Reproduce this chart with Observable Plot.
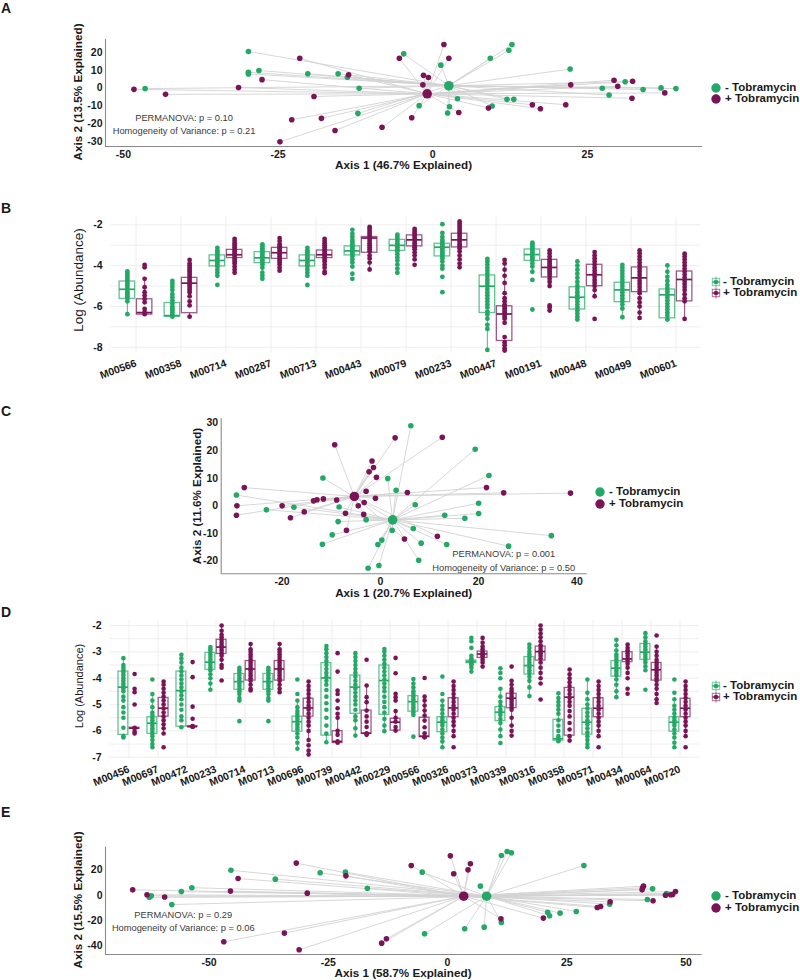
<!DOCTYPE html>
<html><head><meta charset="utf-8">
<script src="https://cdn.jsdelivr.net/npm/d3@7"></script>
<script src="https://cdn.jsdelivr.net/npm/@observablehq/plot@0.6"></script>
<style>
body{margin:0;background:#fff;}
#page{position:relative;width:800px;height:980px;overflow:hidden;font-family:"Liberation Sans",Arial,sans-serif;color:#1a1a1a;background:#fff;}
</style></head><body><div id="page"></div>
<script>
// ---------- shared ----------
const groupLabels = ["- Tobramycin", "+ Tobramycin"];
const groupColors = ["#23A865", "#7A1456"];

// ---------- Panel A (PCoA) ----------
const aGreen = [[-46.5,-0.3],[-29.8,20.4],[-29.8,8.8],[-29.8,7.9],[-28.1,9.8],[-20.2,8.0],[-15.3,8.0],[-13.8,6.0],[-11.9,-0.1],[-12.1,-14.1],[-4.7,19.1],[1.3,12.8],[9.3,16.6],[12.3,21.1],[12.8,24.3],[22.2,10.6],[31.1,3.5],[27.4,-0.1],[34.0,-0.8],[36.9,0.1],[39.3,-0.3],[28.5,-3.9],[4.0,-6.0],[12.0,-6.3],[13.1,-6.3],[9.6,-10.0],[-2.2,-9.8],[2.7,-10.4],[2.4,-13.9]];
const aPurple = [[-48.3,-0.7],[-43.2,-3.5],[-27.6,4.7],[-31.4,0.3],[-21.5,16.6],[-13.6,7.4],[-19.2,-4.7],[-22.8,-17.7],[-18.0,-16.9],[-15.8,-23.7],[-8.2,-21.9],[-24.7,-30.0],[-5.4,16.6],[1.8,24.3],[2.6,16.6],[-1.5,7.1],[-0.7,5.9],[-1.6,1.8],[22.3,1.8],[29.3,4.4],[32.3,3.8],[29.9,1.0],[37.5,-2.7],[32.2,-5.7],[16.1,-9.3],[17.4,-11.5],[21.5,-9.3],[9.0,-11.1],[4.2,-13.6],[-3.4,-16.6]];
const aCentroids = [[2.6,1.3],[-0.9,-3.2]];
const aXTicks = [-50,-25,0,25];
const aYTicks = [-30,-20,-10,0,10,20];
const aStats = [{x:-40.2,y:-16.6,t:"PERMANOVA: p = 0.10"},{x:-40.2,y:-23.9,t:"Homogeneity of Variance: p = 0.21"}];

// ---------- Panel B (boxplots) ----------
const bCats = ["M00566","M00358","M00714","M00287","M00713","M00443","M00079","M00233","M00447","M00191","M00448","M00499","M00601"];
const bYTicks = [-8,-6,-4,-2];
const bGrid = [-8,-7,-6,-5,-4,-3,-2];
// [lower hinge, median, upper hinge]
const bGreenBox = [[-5.63,-5.16,-4.78],[-6.50,-6.45,-5.83],[-4.04,-3.75,-3.50],[-3.88,-3.62,-3.34],[-4.04,-3.75,-3.50],[-3.50,-3.28,-3.06],[-3.28,-3.01,-2.74],[-3.55,-3.10,-2.93],[-6.32,-5.01,-4.48],[-3.77,-3.46,-3.21],[-6.15,-5.55,-5.06],[-5.79,-5.19,-4.84],[-6.58,-5.43,-5.17]];
const bPurpleBox = [[-6.40,-6.30,-5.65],[-6.33,-4.86,-4.60],[-3.63,-3.47,-3.23],[-3.67,-3.37,-3.13],[-3.63,-3.47,-3.26],[-3.37,-2.65,-2.60],[-3.06,-2.74,-2.52],[-3.11,-2.74,-2.44],[-7.69,-6.37,-5.99],[-4.58,-4.09,-3.72],[-5.01,-4.45,-3.96],[-5.30,-4.60,-4.09],[-5.75,-4.68,-4.29]];
const bGreenPts = [
[-4.29,-4.4,-4.5,-4.6,-4.7,-4.8,-4.9,-5.0,-5.1,-5.2,-5.3,-5.4,-5.5,-5.6,-5.75,-6.38],
[-4.75,-4.9,-5.05,-5.2,-5.4,-5.55,-5.7,-5.85,-6.0,-6.1,-6.2,-6.3,-6.4,-6.5],
[-3.13,-3.25,-3.35,-3.45,-3.55,-3.65,-3.75,-3.85,-3.95,-4.05,-4.2,-4.35,-4.5,-4.94],
[-2.96,-3.05,-3.15,-3.25,-3.35,-3.45,-3.55,-3.65,-3.75,-3.85,-3.95,-4.1,-4.35,-4.5,-4.65],
[-3.13,-3.25,-3.35,-3.45,-3.55,-3.65,-3.75,-3.85,-3.95,-4.05,-4.2,-4.35,-4.5,-4.95],
[-2.25,-2.45,-2.6,-2.75,-2.85,-2.95,-3.05,-3.15,-3.25,-3.35,-3.45,-3.55,-3.7,-3.85,-4.05,-4.4,-4.65],
[-2.49,-2.6,-2.7,-2.8,-2.9,-3.0,-3.1,-3.2,-3.3,-3.45,-3.6,-3.75,-3.95,-4.15,-4.35],
[-1.97,-2.4,-2.6,-2.75,-2.85,-2.95,-3.05,-3.15,-3.25,-3.35,-3.45,-3.55,-3.65,-3.8,-4.0,-4.15,-4.55,-5.3],
[-3.67,-3.8,-3.95,-4.1,-4.25,-4.4,-4.55,-4.7,-4.85,-5.0,-5.15,-5.3,-5.45,-5.6,-5.75,-5.9,-6.05,-6.25,-6.4,-6.6,-6.9,-7.1,-8.13],
[-2.88,-2.95,-3.05,-3.15,-3.25,-3.35,-3.45,-3.55,-3.65,-3.75,-3.9,-4.05,-4.3,-4.7,-6.15],
[-3.8,-4.0,-4.2,-4.4,-4.6,-4.8,-5.0,-5.15,-5.3,-5.45,-5.6,-5.75,-5.9,-6.05,-6.2,-6.35,-6.5,-6.64],
[-3.96,-4.1,-4.25,-4.4,-4.55,-4.7,-4.85,-5.0,-5.15,-5.3,-5.45,-5.6,-5.75,-5.9,-6.1,-6.53],
[-3.99,-4.3,-4.55,-4.75,-4.95,-5.1,-5.25,-5.4,-5.55,-5.7,-5.85,-6.0,-6.15,-6.3,-6.45,-6.64]];
const bPurplePts = [
[-3.96,-4.08,-4.65,-5.06,-5.3,-5.47,-5.63,-5.8,-6.12,-6.28,-6.38],
[-3.72,-3.9,-4.0,-4.1,-4.2,-4.3,-4.4,-4.5,-4.6,-4.7,-4.8,-4.9,-5.0,-5.1,-5.2,-5.3,-5.5,-5.75,-5.95,-6.5],
[-2.69,-2.8,-2.9,-3.0,-3.1,-3.2,-3.3,-3.4,-3.5,-3.6,-3.7,-3.8,-3.9,-4.05,-4.2,-4.35],
[-2.65,-2.8,-2.95,-3.05,-3.15,-3.25,-3.35,-3.45,-3.55,-3.65,-3.75,-3.85,-3.95,-4.1,-4.25],
[-2.69,-2.8,-2.9,-3.0,-3.1,-3.2,-3.3,-3.4,-3.5,-3.6,-3.7,-3.8,-3.95,-4.1,-4.3,-4.37],
[-2.11,-2.2,-2.3,-2.4,-2.5,-2.6,-2.7,-2.8,-2.9,-3.0,-3.1,-3.2,-3.3,-3.5,-3.65,-3.85,-4.19],
[-2.2,-2.3,-2.4,-2.5,-2.6,-2.7,-2.8,-2.9,-3.0,-3.1,-3.2,-3.35,-3.5,-3.7,-3.96],
[-1.84,-1.95,-2.05,-2.15,-2.25,-2.35,-2.45,-2.55,-2.65,-2.75,-2.85,-2.95,-3.05,-3.15,-3.3,-3.5,-3.7,-3.9,-4.08],
[-3.72,-3.9,-4.2,-4.5,-4.85,-5.35,-5.6,-5.75,-5.9,-6.0,-6.1,-6.2,-6.3,-6.4,-6.5,-6.6,-6.8,-7.5,-7.75,-7.9,-8.05,-8.16],
[-3.26,-3.4,-3.55,-3.7,-3.8,-3.9,-4.0,-4.1,-4.2,-4.3,-4.4,-4.5,-4.65,-4.8,-5.0,-5.95,-6.05,-6.2],
[-3.34,-3.5,-3.65,-3.8,-3.95,-4.1,-4.25,-4.4,-4.55,-4.7,-4.85,-5.0,-5.2,-5.5,-6.61],
[-3.26,-3.4,-3.55,-3.7,-3.85,-4.0,-4.15,-4.3,-4.45,-4.6,-4.75,-4.9,-5.05,-5.2,-5.35,-5.6,-5.8,-6.0,-6.3,-6.56],
[-3.42,-3.55,-3.7,-3.85,-4.0,-4.15,-4.3,-4.45,-4.6,-4.75,-4.9,-5.05,-5.2,-5.4,-5.6,-5.75,-6.61]];

// ---------- Panel C (PCoA) ----------
const cGreen = [[6.2,29.0],[-11.7,10.1],[1.5,9.9],[-29.3,3.9],[3.2,5.6],[-17.6,-0.5],[-23.2,-1.4],[-8.4,-0.4],[7.1,0.4],[-8.6,-5.7],[-2.9,-5.0],[2.4,-8.9],[-9.8,-10.5],[6.7,-8.2],[0.3,-12.4],[-0.5,-14.0],[8.3,-13.5],[-11.8,-13.9],[13.5,-14.0],[13.1,-3.4],[17.2,-4.5],[7.8,-19.7],[-0.3,-21.6],[-2.5,-22.6],[19.3,20.5],[22.1,11.0],[20.0,0.95],[20.0,-2.8],[34.8,-10.8],[26.1,-14.6]];
const cPurple = [[3.0,24.6],[12.6,24.8],[-9.3,22.1],[-1.7,16.2],[-1.4,13.9],[-2.3,12.3],[-0.8,10.3],[-27.7,6.6],[-29.2,0],[-29.3,-3.4],[5.5,4.8],[-2.9,5.3],[-11.6,2.5],[-12.9,2.2],[-13.6,1.8],[-8.9,2.1],[-1.0,2.7],[-3.3,1.2],[-4.5,0],[-20.0,0],[-7.1,-2.7],[-3.4,-3.1],[-18.3,-4.3],[-15.5,-2.2],[-6.9,-8.9],[11.6,-11.0],[4.9,-12.0],[21.6,6.6],[25.1,4.7],[38.7,4.6]];
const cCentroids = [[2.5,-5.1],[-5.3,3.4]];
const cXTicks = [-20,0,20,40];
const cYTicks = [-20,-10,0,10,20,30];
const cStats = [{x:25.1,y:-17.6,t:"PERMANOVA: p = 0.001"},{x:25.1,y:-22.5,t:"Homogeneity of Variance: p = 0.50"}];

// ---------- Panel D (boxplots) ----------
const dCats = ["M00456","M00697","M00472","M00233","M00714","M00713","M00696","M00739","M00442","M00229","M00566","M00326","M00373","M00339","M00316","M00358","M00571","M00434","M00064","M00720"];
const dYTicks = [-7,-6,-5,-4,-3,-2];
const dGrid = [-7,-6.5,-6,-5.5,-5,-4.5,-4,-3.5,-3,-2.5,-2];
const dGreenBox = [[-6.15,-4.34,-3.75],[-6.11,-5.71,-5.48],[-5.84,-4.47,-3.75],[-3.68,-3.39,-3.04],[-4.44,-4.13,-3.84],[-4.44,-4.13,-3.84],[-6.03,-5.65,-5.46],[-6.18,-3.99,-3.43],[-5.35,-4.34,-3.90],[-5.39,-4.09,-3.52],[-5.27,-4.89,-4.68],[-6.05,-5.67,-5.48],[-3.43,-3.37,-3.33],[-5.63,-5.29,-5.10],[-3.86,-3.52,-3.20],[-6.37,-6.30,-5.58],[-6.14,-5.67,-5.16],[-3.94,-3.62,-3.35],[-3.30,-3.01,-2.70],[-6.03,-5.67,-5.48]];
const dPurpleBox = [[-5.92,-5.90,-5.88],[-5.46,-5.14,-4.75],[-5.84,-5.84,-5.82],[-3.08,-2.82,-2.54],[-4.09,-3.65,-3.35],[-4.09,-3.65,-3.35],[-5.46,-5.13,-4.78],[-6.46,-6.40,-6.01],[-6.11,-6.09,-5.23],[-5.99,-5.67,-5.54],[-6.24,-6.20,-5.50],[-5.48,-5.13,-4.76],[-3.23,-3.08,-2.99],[-5.14,-4.76,-4.59],[-3.33,-2.99,-2.80],[-6.18,-4.72,-4.37],[-5.48,-5.14,-4.76],[-3.39,-3.27,-3.01],[-4.09,-3.68,-3.42],[-5.48,-5.14,-4.78]];
const dGreenPts = [
[-3.24,-3.5,-3.6,-3.7,-3.8,-3.9,-4.0,-4.1,-4.2,-4.3,-4.4,-4.5,-4.7,-4.85,-5.1,-5.3,-5.5,-5.88,-6.2,-6.25],
[-4.05,-4.6,-4.85,-5.1,-5.3,-5.4,-5.5,-5.6,-5.7,-5.8,-5.9,-6.0,-6.1,-6.2,-6.35,-6.5,-6.62],
[-3.11,-3.25,-3.4,-3.6,-3.75,-3.9,-4.05,-4.2,-4.35,-4.5,-4.65,-4.8,-5.0,-5.2,-5.45,-5.6,-5.86],
[-2.82,-2.9,-3.0,-3.1,-3.2,-3.3,-3.4,-3.5,-3.6,-3.7,-3.85,-4.0,-4.2,-4.44],
[-3.61,-3.7,-3.8,-3.9,-4.0,-4.1,-4.2,-4.3,-4.4,-4.5,-4.6,-4.75,-4.85,-5.63],
[-3.61,-3.7,-3.8,-3.9,-4.0,-4.1,-4.2,-4.3,-4.4,-4.5,-4.6,-4.75,-4.85,-5.63],
[-4.05,-4.6,-4.85,-5.1,-5.25,-5.35,-5.45,-5.55,-5.65,-5.75,-5.85,-5.95,-6.1,-6.25,-6.45,-6.68],
[-2.78,-2.9,-3.05,-3.2,-3.35,-3.5,-3.65,-3.8,-3.95,-4.1,-4.25,-4.45,-4.7,-4.95,-5.2,-5.5,-5.8,-6.1,-6.43],
[-3.05,-3.2,-3.35,-3.5,-3.65,-3.8,-3.95,-4.1,-4.25,-4.4,-4.55,-4.7,-4.85,-5.0,-5.2,-5.45,-5.6,-5.9,-6.18],
[-2.89,-3.0,-3.15,-3.3,-3.45,-3.6,-3.75,-3.9,-4.05,-4.2,-4.35,-4.5,-4.7,-4.9,-5.1,-5.3,-5.55,-5.8,-6.01],
[-4.03,-4.2,-4.35,-4.5,-4.6,-4.7,-4.8,-4.9,-5.0,-5.1,-5.2,-5.3,-5.4,-6.22],
[-3.94,-4.6,-4.85,-5.05,-5.2,-5.35,-5.5,-5.6,-5.7,-5.8,-5.95,-6.1,-6.25,-6.4,-6.62],
[-2.47,-2.6,-2.85,-3.15,-3.25,-3.3,-3.35,-3.4,-3.45,-3.5,-3.6,-3.75],
[-3.62,-3.8,-4.0,-4.4,-4.7,-4.9,-5.05,-5.2,-5.3,-5.4,-5.55,-5.7,-5.95,-6.2,-6.46],
[-2.72,-2.85,-3.0,-3.1,-3.2,-3.3,-3.4,-3.5,-3.6,-3.7,-3.8,-3.95,-4.1,-4.35,-4.68],
[-4.57,-4.75,-4.9,-5.05,-5.2,-5.35,-5.6,-5.8,-6.0,-6.2,-6.3,-6.35,-6.39],
[-4.05,-4.55,-4.8,-5.0,-5.15,-5.3,-5.45,-5.6,-5.75,-5.9,-6.05,-6.2,-6.35,-6.5,-6.62],
[-2.54,-2.75,-2.95,-3.1,-3.2,-3.3,-3.4,-3.5,-3.6,-3.7,-3.8,-3.9,-4.05,-4.25,-4.5,-4.72],
[-2.29,-2.45,-2.6,-2.7,-2.8,-2.9,-3.0,-3.1,-3.2,-3.3,-3.4,-3.55,-3.7,-4.44],
[-4.05,-4.55,-4.8,-5.05,-5.2,-5.35,-5.5,-5.6,-5.7,-5.8,-5.95,-6.1,-6.25,-6.45,-6.62]];
const dPurplePts = [
[-3.84,-4.4,-4.53,-5.0,-5.88,-5.9,-6.03,-6.1],
[-4.13,-4.25,-4.4,-4.55,-4.7,-4.85,-5.0,-5.15,-5.3,-5.45,-5.6,-5.75,-5.9,-6.1,-6.62],
[-3.39,-3.96,-5.08,-5.54,-5.82,-5.84,-5.84],
[-2.0,-2.2,-2.35,-2.45,-2.55,-2.65,-2.75,-2.85,-2.95,-3.05,-3.15,-3.3,-3.5,-3.6,-4.09],
[-2.7,-2.9,-3.0,-3.1,-3.2,-3.3,-3.4,-3.5,-3.6,-3.7,-3.8,-3.9,-4.0,-4.1,-4.25,-4.4,-4.47],
[-2.7,-2.9,-3.0,-3.1,-3.2,-3.3,-3.4,-3.5,-3.6,-3.7,-3.8,-3.9,-4.0,-4.1,-4.25,-4.4,-4.53],
[-4.13,-4.3,-4.45,-4.6,-4.75,-4.9,-5.05,-5.2,-5.35,-5.5,-5.65,-5.8,-6.0,-6.35,-6.55,-6.75,-6.9],
[-3.05,-3.75,-4.47,-4.6,-4.85,-5.14,-5.35,-5.5,-6.0,-6.15,-6.4,-6.45],
[-3.3,-4.28,-4.72,-4.91,-5.23,-5.45,-5.65,-5.85,-6.09,-6.12,-6.15],
[-3.23,-3.81,-4.59,-4.72,-4.85,-5.25,-5.5,-5.65,-5.85,-5.99],
[-3.99,-4.7,-4.85,-5.04,-5.23,-5.42,-5.61,-5.86,-6.09,-6.24,-6.24],
[-4.13,-4.3,-4.45,-4.6,-4.75,-4.9,-5.05,-5.2,-5.35,-5.5,-5.65,-5.8,-6.0,-6.2,-6.62],
[-2.47,-2.65,-2.8,-2.9,-3.0,-3.05,-3.1,-3.15,-3.2,-3.3,-3.4,-3.56],
[-3.56,-4.1,-4.25,-4.4,-4.5,-4.6,-4.7,-4.8,-4.9,-5.0,-5.1,-5.2,-5.5,-5.8,-6.0,-6.18],
[-2.0,-2.15,-2.3,-2.45,-2.6,-2.75,-2.85,-2.95,-3.05,-3.15,-3.25,-3.4,-3.6,-3.8,-4.0,-4.2,-4.81],
[-3.67,-3.85,-4.0,-4.15,-4.3,-4.45,-4.6,-4.75,-4.9,-5.05,-5.25,-5.45,-5.7,-5.95,-6.2,-6.37],
[-4.13,-4.3,-4.45,-4.6,-4.75,-4.9,-5.05,-5.2,-5.35,-5.5,-5.65,-5.8,-6.0,-6.2,-6.62],
[-2.72,-2.85,-2.95,-3.05,-3.15,-3.25,-3.35,-3.45,-3.6,-3.8,-4.0,-4.4,-4.59],
[-2.38,-2.8,-3.0,-3.15,-3.3,-3.4,-3.5,-3.6,-3.7,-3.8,-3.9,-4.0,-4.1,-4.25,-4.4,-4.6,-4.8,-4.94],
[-4.13,-4.3,-4.45,-4.6,-4.75,-4.9,-5.05,-5.2,-5.35,-5.5,-5.65,-5.8,-6.0,-6.2,-6.62]];

// ---------- Panel E (PCoA) ----------
const eGreen = [[-62.1,-0.5],[-62.5,-1.6],[-57.8,-7.4],[-55.8,2.8],[-53.6,5.9],[-45.4,19.6],[-36.1,12.6],[-26.7,17.6],[-21.4,18.1],[-16.8,5.5],[11.3,31.2],[12.5,34.3],[13.4,33.3],[-5.3,18.1],[28.6,23.3],[6.9,7.1],[43.0,5.0],[45.9,1.3],[41.9,-3.4],[34.0,-7.1],[27.0,-12.8],[23.6,-14.1],[21.0,-13.4],[21.4,-16.2],[11.3,-21.4],[7.7,-25.1],[3.6,-26.4],[-4.8,-30.3]];
const ePurple = [[-66.0,4.2],[-63.0,0.3],[-59.3,-1.4],[-43.9,13.1],[-45.5,3.2],[-31.7,25.2],[-21.3,15.2],[-29.4,1.6],[-46.9,-36.6],[-34.2,-29.8],[-31.1,-42.9],[-13.8,-37.7],[-12.8,-34.3],[0.6,30.9],[-7.6,23.3],[4.8,24.7],[4.3,19.9],[1.3,16.8],[40.9,5.8],[41.1,7.1],[40.8,4.2],[45.7,0],[46.8,0.3],[47.8,2.9],[47.2,0.5],[43.1,-4.4],[34.1,-5.2],[32.1,-8.9],[31.4,-9.7],[20.1,-18.0],[11.2,-18.5]];
const eCentroids = [[8.2,-0.8],[3.4,-0.8]];
const eXTicks = [-50,-25,0,25,50];
const eYTicks = [-40,-20,0,20];
const eStats = [{x:-55.4,y:-15.2,t:"PERMANOVA: p = 0.29"},{x:-55.4,y:-25.9,t:"Homogeneity of Variance: p = 0.06"}];

// ---------- helpers ----------
const page = document.getElementById("page");
const FONT = '"Liberation Sans", Arial, sans-serif';
const fmt = d => String(d);

function mount(svg, top) {
  const wrap = document.createElement("div");
  wrap.style.cssText = `position:absolute;left:0;top:${top}px;`;
  svg.style.display = "block";
  wrap.appendChild(svg);
  page.appendChild(wrap);
}
function addText(txt, o) {
  const d = document.createElement("div");
  d.textContent = txt;
  d.style.cssText = `position:absolute;white-space:nowrap;line-height:1;font-size:${o.size}px;font-weight:${o.weight || "bold"};left:${o.x}px;top:${o.y}px;color:#1a1a1a;`;
  let t = o.anchor === "start" ? "translate(0,-50%)" : "translate(-50%,-50%)";
  if (o.rotate) t += ` rotate(${o.rotate}deg)`;
  d.style.transform = t;
  page.appendChild(d);
}
function addLegend(x, ys, kind) {
  groupLabels.forEach((lab, i) => {
    const ns = "http://www.w3.org/2000/svg";
    const s = document.createElementNS(ns, "svg");
    s.setAttribute("width", 12); s.setAttribute("height", 12);
    s.style.cssText = `position:absolute;left:${x - 6}px;top:${ys[i] - 6}px;overflow:visible;`;
    const c = groupColors[i];
    if (kind === "dot") {
      s.innerHTML = `<circle cx="6" cy="6" r="4.7" fill="${c}"/>`;
    } else {
      s.innerHTML = `<rect x="2.3" y="2.3" width="7.4" height="7.4" fill="none" stroke="${c}" stroke-opacity="0.6" stroke-width="1"/>
        <line x1="6" y1="0.5" x2="6" y2="11.5" stroke="${c}" stroke-opacity="0.6"/>
        <line x1="2.3" y1="6" x2="9.7" y2="6" stroke="${c}" stroke-width="1.3"/>
        <circle cx="6" cy="6" r="2.3" fill="${c}"/>`;
    }
    page.appendChild(s);
    addText(lab, {x: x + (kind === "dot" ? 9 : 7), y: ys[i], size: 11.5, anchor: "start"});
  });
}

function ordination(cfg) {
  const series = [cfg.green, cfg.purple];
  const marks = [
    Plot.ruleX([cfg.xDomain[0]], {stroke: "#8a8a8a", strokeWidth: 1.1}),
    Plot.ruleY([cfg.yDomain[0]], {stroke: "#8a8a8a", strokeWidth: 1.1})
  ];
  const pts = [];
  series.forEach((arr, gi) => arr.forEach(([x, y]) => pts.push({x, y, g: gi, cx: cfg.centroids[gi][0], cy: cfg.centroids[gi][1]})));
  marks.push(Plot.link(pts, {x1: "x", y1: "y", x2: "cx", y2: "cy", stroke: "#d2d2d2", strokeWidth: 0.9}));
  series.forEach((arr, gi) => {
    marks.push(Plot.dot(pts.filter(d => d.g === gi), {x: "x", y: "y", r: 2.8, fill: groupColors[gi]}));
  });
  series.forEach((arr, gi) => {
    marks.push(Plot.dot([cfg.centroids[gi]], {x: d => d[0], y: d => d[1], r: 4.8, fill: groupColors[gi]}));
  });
  marks.push(Plot.text(cfg.stats, {x: "x", y: "y", text: "t", fontSize: 9.3, fontWeight: "normal", fill: "#3a3a3a"}));
  const svg = Plot.plot({
    width: 800, height: cfg.height,
    marginTop: cfg.mt, marginBottom: cfg.mb, marginLeft: cfg.ml, marginRight: cfg.mr,
    style: {fontFamily: FONT, fontSize: "10.5px", fontWeight: "bold", color: "#1a1a1a", background: "transparent", overflow: "visible"},
    x: {domain: cfg.xDomain, ticks: cfg.xTicks, tickFormat: fmt, tickSize: 0, tickPadding: 4, label: null},
    y: {domain: cfg.yDomain, ticks: cfg.yTicks, tickFormat: fmt, tickSize: 0, tickPadding: 3, label: null},
    marks
  });
  mount(svg, cfg.top);
}

function boxes(cfg) {
  const n = cfg.cats.length;
  const step = (800 - cfg.ml - cfg.mr) / n;
  const off = 0.19 * step, hw = 0.175 * step;
  const marks = [
    Plot.ruleY(cfg.grid, {stroke: "#ececec", strokeWidth: 0.9}),
    Plot.ruleX(cfg.cats, {x: d => d, stroke: "#ececec", strokeWidth: 0.9})
  ];
  [cfg.greenBox, cfg.purpleBox].forEach((boxArr, gi) => {
    const ptsArr = gi === 0 ? cfg.greenPts : cfg.purplePts;
    const color = groupColors[gi];
    const dx = gi === 0 ? -off : off;
    const insetLeft = gi === 0 ? step / 2 - off - hw : step / 2 + off - hw;
    const insetRight = gi === 0 ? step / 2 + off - hw : step / 2 - off - hw;
    const rows = cfg.cats.map((c, i) => {
      const [q1, med, q3] = boxArr[i];
      const iqr = q3 - q1;
      const inside = ptsArr[i].filter(v => v >= q1 - 1.5 * iqr && v <= q3 + 1.5 * iqr);
      return {cat: c, q1, med, q3, lo: Math.min(q1, ...inside), hi: Math.max(q3, ...inside)};
    });
    const pts = [];
    cfg.cats.forEach((c, i) => ptsArr[i].forEach(v => pts.push({cat: c, v})));
    marks.push(Plot.ruleX(rows, {x: "cat", y1: "lo", y2: "q1", dx, stroke: color, strokeOpacity: 0.75, strokeWidth: 1.1}));
    marks.push(Plot.ruleX(rows, {x: "cat", y1: "q3", y2: "hi", dx, stroke: color, strokeOpacity: 0.75, strokeWidth: 1.1}));
    marks.push(Plot.dot(pts, {x: "cat", y: "v", dx, r: cfg.r, fill: color}));
    marks.push(Plot.barY(rows, {x: "cat", y1: "q1", y2: "q3", fill: "none", stroke: color, strokeOpacity: 0.7, strokeWidth: 1.3, insetLeft, insetRight}));
    marks.push(Plot.tickY(rows, {x: "cat", y: "med", stroke: color, strokeWidth: 1.7, insetLeft, insetRight}));
  });
  const svg = Plot.plot({
    width: 800, height: cfg.height,
    marginTop: cfg.mt, marginBottom: cfg.mb, marginLeft: cfg.ml, marginRight: cfg.mr,
    style: {fontFamily: FONT, fontSize: "10.5px", fontWeight: "bold", color: "#1a1a1a", background: "transparent", overflow: "visible"},
    x: {type: "band", domain: cfg.cats, padding: 0, tickSize: 0, tickPadding: 10, tickRotate: cfg.rot, label: null},
    y: {domain: cfg.yDomain, ticks: cfg.yTicks, tickFormat: fmt, tickSize: 0, tickPadding: 8, label: null},
    marks
  });
  mount(svg, cfg.top);
}

// ---------- build ----------
ordination({top: 0, height: 195, mt: 39, mb: 49, ml: 105, mr: 98,
  xDomain: [-52.9, 43.6], yDomain: [-32.6, 27.1], xTicks: aXTicks, yTicks: aYTicks,
  green: aGreen, purple: aPurple, centroids: aCentroids, stats: aStats});
boxes({top: 195, height: 200, mt: 21.7, mb: 42.7, ml: 110, mr: 100, rot: -20, r: 2.4,
  cats: bCats, yDomain: [-8.27, -1.63], yTicks: bYTicks, grid: bGrid,
  greenBox: bGreenBox, purpleBox: bPurpleBox, greenPts: bGreenPts, purplePts: bPurplePts});
ordination({top: 390, height: 215, mt: 28.3, mb: 31.7, ml: 220.7, mr: 213.3,
  xDomain: [-32.4, 42.1], yDomain: [-24.6, 31.5], xTicks: cXTicks, yTicks: cYTicks,
  green: cGreen, purple: cPurple, centroids: cCentroids, stats: cStats});
boxes({top: 600, height: 195, mt: 20, mb: 36.7, ml: 109, mr: 101, rot: -22, r: 2.3,
  cats: dCats, yDomain: [-7.06, -1.81], yTicks: dYTicks, grid: dGrid,
  greenBox: dGreenBox, purpleBox: dPurpleBox, greenPts: dGreenPts, purplePts: dPurplePts});
ordination({top: 800, height: 180, mt: 46.7, mb: 26, ml: 105, mr: 98.3,
  xDomain: [-71.7, 53.4], yDomain: [-46.6, 37.7], xTicks: eXTicks, yTicks: eYTicks,
  green: eGreen, purple: ePurple, centroids: eCentroids, stats: eStats});

// panel letters
[["A", 8], ["B", 208], ["C", 411], ["D", 612], ["E", 812]].forEach(([t, y]) => addText(t, {x: 1, y, size: 14, anchor: "start"}));
// axis titles
addText("Axis 1 (46.7% Explained)", {x: 403.5, y: 165, size: 11.7});
addText("Axis 2 (13.5% Explained)", {x: 78, y: 92, size: 11.7, rotate: -90});
addText("Log (Abundance)", {x: 79, y: 280, size: 13.5, weight: "normal", rotate: -90});
addText("Axis 1 (20.7% Explained)", {x: 403.7, y: 593.3, size: 11.7});
addText("Axis 2 (11.6% Explained)", {x: 196.7, y: 495.5, size: 11.7, rotate: -90});
addText("Log (Abundance)", {x: 79, y: 686, size: 11, weight: "normal", rotate: -90});
addText("Axis 1 (58.7% Explained)", {x: 403, y: 973.3, size: 11.7});
addText("Axis 2 (15.5% Explained)", {x: 78, y: 900, size: 11.7, rotate: -90});
// legends
addLegend(716, [88, 99.3], "dot");
addLegend(716, [281.7, 293.3], "box");
addLegend(600, [491.7, 504], "dot");
addLegend(716, [686, 697.3], "box");
addLegend(716, [896, 907.7], "dot");
</script></body></html>
